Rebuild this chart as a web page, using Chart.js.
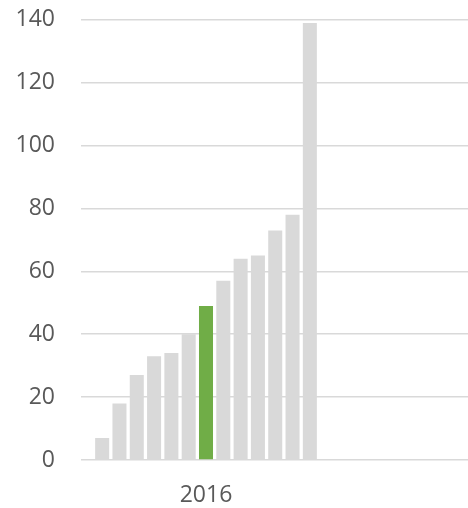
<!DOCTYPE html>
<html>
<head>
<meta charset="utf-8">
<script src="https://cdn.jsdelivr.net/npm/chart.js@4/dist/chart.umd.min.js"></script>
<style>
  html, body { margin: 0; padding: 0; background: #ffffff; overflow: hidden; }
  #wrap { width: 468px; height: 508px; overflow: hidden; position: relative; }
  #holder { width: 590px; height: 528px; position: absolute; left: 0; top: -20px; }
</style>
</head>
<body>
<div id="wrap"><div id="holder"><canvas id="c" width="590" height="528"></canvas></div></div>
<script>
// Categories on the x axis (the second one is the cropped-off neighbour)
const categories = ['2016', ''];
// One bar per series inside the 2016 group
const seriesNames = ['S1','S2','S3','S4','S5','S6','S7','S8','S9','S10','S11','S12','S13'];
const seriesValues = [7, 18, 27, 33, 34, 40, 49, 57, 64, 65, 73, 78, 139];
const highlightIndex = 6;
const yTicks = [0, 20, 40, 60, 80, 100, 120, 140];

const GREY = '#d9d9d9';
const GREEN = '#70ad47';

const datasets = seriesValues.map((v, i) => ({
  label: seriesNames[i],
  data: [v, null],
  backgroundColor: i === highlightIndex ? GREEN : GREY,
  borderWidth: 0,
  categoryPercentage: 0.9,
  barPercentage: 0.81
}));

new Chart(document.getElementById('c'), {
  type: 'bar',
  data: { labels: categories, datasets },
  options: {
    responsive: false,
    animation: false,
    layout: { padding: { left: 0, right: 9, top: 0, bottom: 0 } },
    plugins: { legend: { display: false }, tooltip: { enabled: false } },
    scales: {
      x: {
        grid: { display: false, drawTicks: false },
        border: { display: false },
        ticks: {
          color: '#595959',
          font: { family: 'Open Sans', size: 23 },
          padding: 22
        },
        afterFit: (s) => { s.height = 48; }
      },
      y: {
        min: 0, max: 140,
        afterBuildTicks: (s) => { s.ticks = yTicks.map(v => ({ value: v })); },
        grid: { color: GREY, lineWidth: 1.5, drawTicks: false },
        border: { display: false },
        ticks: {
          color: '#595959',
          font: { family: 'Open Sans', size: 23 },
          padding: 26
        },
        afterFit: (s) => { s.width = 81; }
      }
    }
  }
});
</script>
</body>
</html>
